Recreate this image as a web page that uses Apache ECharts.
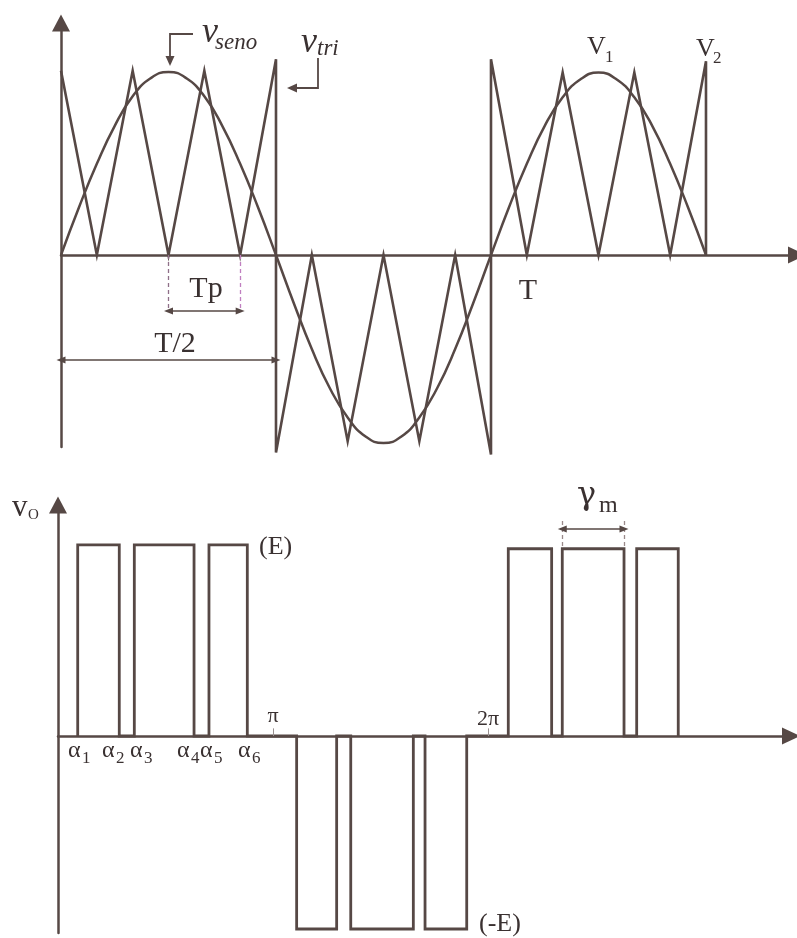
<!DOCTYPE html>
<html><head><meta charset="utf-8">
<script src="https://cdn.jsdelivr.net/npm/echarts@6/dist/echarts.min.js"></script>
<style>html,body{margin:0;padding:0;background:#fff}#c{width:797px;height:938px}</style>
</head><body><div id="c"></div>
<script>
// ---- top panel: time in carrier half-periods (T = 12 units) ----
const triX = [0,1,2,3,4,5,6,6,7,8,9,10,11,12,12,13,14,15,16,17,18,18];
const triY = [0.97,0,0.97,0,0.97,0,1.03,-1.04,0,-0.98,0,-0.98,0,-1.05,1.03,0,0.96,0,0.96,0,1.02,0];
const sineX = [0,0.5,1,1.5,2,2.5,3,3.5,4,4.5,5,5.5,6,6.5,7,7.5,8,8.5,9,9.5,10,10.5,11,11.5,12,12.5,13,13.5,14,14.5,15,15.5,16,16.5,17,17.5,18];
const sineY = [0,0.25,0.48,0.68,0.835,0.93,0.963,0.93,0.835,0.68,0.48,0.25,0,
  -0.255,-0.495,-0.70,-0.855,-0.955,-0.99,-0.955,-0.855,-0.70,-0.495,-0.255,0,
  0.25,0.48,0.68,0.83,0.925,0.96,0.925,0.83,0.68,0.48,0.25,0];
const tpSpan = [3,5];      // Tp between two carrier troughs
const halfSpan = [0,6];    // T/2
// ---- bottom panel: angle in degrees ----
const pulseStart = [16.5,63.9,126.4,199.8,245.1,307.3,377.0,422.2,484.5];
const pulseEnd   = [51.3,113.9,158.5,233.3,297.5,342.2,413.3,473.9,519.3];
const pulseLevel = [1,1,1,-1.01,-1.01,-1.01,0.98,0.98,0.98];
const piTicks = [180,360];
const piTickLabels = ['π','2π'];
const gammaPulse = 7;      // index of pulse marked with γm

const INK = '#564845', TXT = '#3a3131', SERIF = '"Liberation Serif","DejaVu Serif",serif';

const triData = triX.map((x,i)=>[x,triY[i]]);
const sineData = sineX.map((x,i)=>[x,sineY[i]]);
const pulseData = [];
pulseStart.forEach((s,i)=>{ pulseData.push([s,0],[s,pulseLevel[i]],[pulseEnd[i],pulseLevel[i]],[pulseEnd[i],0]); });

function axisX(gi, max){
  return {gridIndex:gi, type:'value', min:0, max:max,
    axisLine:{show:true, onZero:true, symbol:['none','triangle'], symbolSize:[17,18], lineStyle:{color:INK,width:2.5}},
    axisTick:{show:false}, axisLabel:{show:false}, splitLine:{show:false}};
}
function axisY(gi, min, max){
  return {gridIndex:gi, type:'value', min:min, max:max,
    axisLine:{show:true, symbol:['none','triangle'], symbolSize:[18,17], lineStyle:{color:INK,width:2.5}},
    axisTick:{show:false}, axisLabel:{show:false}, splitLine:{show:false}};
}
const arrowLine = (a,b)=>[{coord:a, symbol:'triangle', symbolSize:[7,9]},{coord:b, symbol:'triangle', symbolSize:[7,9]}];
const dashLine = (a,b,c)=>[{coord:a, symbol:'none', lineStyle:{type:[4,3],color:c,width:1.3}},{coord:b, symbol:'none'}];

function txt(text, x, base, size, opt){
  opt = opt || {};
  return {type:'text', x:x, y:base-0.3*size, silent:true,
    style:{text:text, font:(opt.italic?'italic ':'')+size+'px '+(opt.family||SERIF), fill:TXT,
      align:opt.align||'left', textAlign:opt.align||'left', verticalAlign:'middle', textVerticalAlign:'middle'}};
}
const graphics = [
  txt('v',202,43,36,{italic:1}), txt('seno',215,50,23,{italic:1}),
  txt('v',301,53,36,{italic:1}), txt('tri',317,56,23,{italic:1}),
  txt('V',587,55,26), txt('1',605,63,17),
  txt('V',696,57,26), txt('2',713,64,17),
  txt('T',528,300,30,{align:'center'}),
  txt('Tp',206,298,30,{align:'center'}),
  txt('T/2',175,353,30,{align:'center'}),
  txt('v',12,517,31), txt('O',28,520,15),
  txt('(E)',259,555,26), txt('(-E)',479,932,26),
  txt(piTickLabels[0],273,723,22,{align:'center'}), txt(piTickLabels[1],488,726,22,{align:'center'}),
  txt('γ',577,505,32,{family:'"DejaVu Serif",serif'}), txt('m',599,513,24),
  {type:'polyline', silent:true, shape:{points:[[193,34],[170,34],[170,57]]}, style:{stroke:INK,lineWidth:1.8,fill:null}},
  {type:'polygon', silent:true, shape:{points:[[165.5,56],[174.5,56],[170,66]]}, style:{fill:INK}},
  {type:'polyline', silent:true, shape:{points:[[318,58],[318,88],[296,88]]}, style:{stroke:INK,lineWidth:1.8,fill:null}},
  {type:'polygon', silent:true, shape:{points:[[297,83.5],[297,92.5],[287,88]]}, style:{fill:INK}}
];
const alphaLeft = [68,102,130,177,200,238];
alphaLeft.forEach((x,i)=>{ graphics.push(txt('α',x,758,24)); graphics.push(txt(String(i+1),x+14,764,17)); });

const chart = echarts.init(document.getElementById('c'), null, {renderer:'canvas'});
chart.setOption({
  animation:false,
  backgroundColor:'#ffffff',
  grid:[{left:61, top:23, right:0, height:424},{left:58, top:505, right:6, height:428}],
  xAxis:[axisX(0, 20.54), axisX(1, 613.7)],
  yAxis:[axisY(0, -1.0105, 1.2211), axisY(1, -1.031, 1.209)],
  series:[
    {type:'line', xAxisIndex:0, yAxisIndex:0, data:sineData, smooth:true, symbol:'none', clip:false,
      lineStyle:{color:INK, width:2.5}},
    {type:'line', xAxisIndex:0, yAxisIndex:0, data:triData, symbol:'none', clip:false,
      lineStyle:{color:INK, width:2.6, join:'miter', miterLimit:6},
      markLine:{silent:true, animation:false, label:{show:false}, lineStyle:{color:INK, width:1.5, type:'solid'},
        data:[
          dashLine([tpSpan[0],0],[tpSpan[0],-0.3],'#8f6f88'),
          dashLine([tpSpan[1],0],[tpSpan[1],-0.3],'#c07fc0'),
          arrowLine([tpSpan[0],-0.295],[tpSpan[1],-0.295]),
          arrowLine([halfSpan[0],-0.553],[halfSpan[1],-0.553])
        ]}},
    {type:'line', xAxisIndex:1, yAxisIndex:1, data:pulseData, symbol:'none', clip:false,
      lineStyle:{color:INK, width:2.8, join:'miter'},
      markLine:{silent:true, animation:false, label:{show:false}, lineStyle:{color:INK, width:1.5, type:'solid'},
        data:[
          dashLine([pulseStart[gammaPulse],1.125],[pulseStart[gammaPulse],0.995],'#9a8a8a'),
          dashLine([pulseEnd[gammaPulse],1.125],[pulseEnd[gammaPulse],0.995],'#9a8a8a'),
          arrowLine([pulseStart[gammaPulse],1.083],[pulseEnd[gammaPulse],1.083]),
          [{coord:[piTicks[0],0], symbol:'none', lineStyle:{color:'#9a9090',width:1}},{coord:[piTicks[0],0.04], symbol:'none'}],
          [{coord:[piTicks[1],0], symbol:'none', lineStyle:{color:'#9a9090',width:1}},{coord:[piTicks[1],0.04], symbol:'none'}]
        ]}}
  ],
  graphic:graphics
});
</script></body></html>
